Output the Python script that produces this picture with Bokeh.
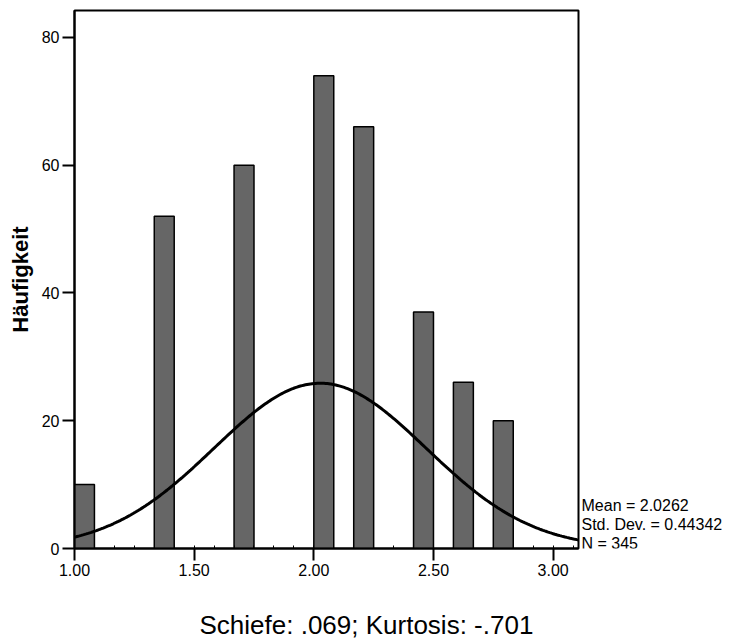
import numpy as np
from bokeh.plotting import figure
from bokeh.layouts import row, column
from bokeh.models import FixedTicker, PrintfTickFormatter, Range1d
from bokeh.core.properties import value
from bokeh.embed import file_html
from bokeh.resources import INLINE

# ---- data ----
bin_start = [1.0, 1.3333, 1.6667, 2.0, 2.1667, 2.4167, 2.5833, 2.75]
counts = [10, 52, 60, 74, 66, 37, 26, 20]
bin_width = 1.0 / 12
x_ticks = [1.0, 1.5, 2.0, 2.5, 3.0]
y_ticks = [0, 20, 40, 60, 80]
mean_val = 2.0262
sd_val = 0.44342
n_val = 345
stats_lines = ["Mean = 2.0262", "Std. Dev. = 0.44342", "N = 345"]
caption = ["Schiefe: .069; Kurtosis: -.701"]
y_title = "Häufigkeit"

X_MIN, X_MAX = 1.0, 3.106
Y_MIN, Y_MAX = 0.0, 84.2
FONT = "Liberation Sans"
W, H = 730, 639
MAIN_W, MAIN_H = 580, 584
BORDER_TOP, BORDER_BOTTOM = 10, 36
CAP_H = H - MAIN_H
SIDE_W = W - MAIN_W


def blank(fig):
    fig.outline_line_color = None
    fig.grid.visible = False
    fig.background_fill_color = "white"
    fig.border_fill_color = "white"
    return fig


p = figure(width=MAIN_W, height=MAIN_H, output_backend="svg", toolbar_location=None,
           x_range=Range1d(X_MIN, X_MAX), y_range=Range1d(Y_MIN, Y_MAX),
           min_border_left=74, min_border_right=2, min_border_top=BORDER_TOP,
           min_border_bottom=BORDER_BOTTOM)
p.background_fill_color = "white"
p.border_fill_color = "white"
p.outline_line_color = "black"
p.outline_line_width = 2
p.grid.visible = False

# bars
bin_end = [s + bin_width for s in bin_start]
p.quad(left=bin_start, right=bin_end, bottom=0, top=counts,
       fill_color="#666666", line_color="black", line_width=1.5)

# normal curve from the displayed mean / std. dev. / N
xs = np.linspace(X_MIN, X_MAX, 300)
ys = n_val * bin_width / (sd_val * np.sqrt(2 * np.pi)) * np.exp(-0.5 * ((xs - mean_val) / sd_val) ** 2)
p.line(xs, ys, line_color="black", line_width=3)

# axes
minor = [1.0 + k / 12 for k in range(0, 26)]
p.xaxis.ticker = FixedTicker(ticks=x_ticks, minor_ticks=minor)
p.xaxis.formatter = PrintfTickFormatter(format="%.2f")
p.yaxis.ticker = FixedTicker(ticks=y_ticks)
for ax in (p.xaxis[0], p.yaxis[0]):
    ax.axis_line_color = "black"
    ax.axis_line_width = 2
    ax.major_tick_line_color = "black"
    ax.major_tick_line_width = 2
    ax.major_tick_out = 12
    ax.major_tick_in = 0
    ax.major_label_text_font = FONT
    ax.major_label_text_font_size = "16px"
    ax.major_label_text_color = "black"
p.xaxis.minor_tick_line_color = "black"
p.xaxis.minor_tick_line_width = 1
p.xaxis.minor_tick_in = 3
p.xaxis.minor_tick_out = 0
p.yaxis.minor_tick_line_color = None
p.xaxis.major_label_standoff = 3
p.yaxis.major_label_standoff = 3
p.yaxis.axis_label = y_title
p.yaxis.axis_label_text_font = FONT
p.yaxis.axis_label_text_font_style = "bold"
p.yaxis.axis_label_text_font_size = "22px"
p.yaxis.axis_label_text_color = "black"
p.yaxis.axis_label_standoff = 6

# side strip with the statistics text; its frame is aligned with the main
# frame (page y from BORDER_TOP to MAIN_H - BORDER_BOTTOM), so the y range
# is expressed in page pixels measured from the top
s = blank(figure(width=SIDE_W, height=MAIN_H, output_backend="svg", toolbar_location=None,
                 x_range=Range1d(0, SIDE_W),
                 y_range=Range1d(MAIN_H - BORDER_BOTTOM, BORDER_TOP),
                 x_axis_type=None, y_axis_type=None,
                 min_border_left=0, min_border_right=0, min_border_top=0,
                 min_border_bottom=0))
s.text(x=[1, 1, 1], y=[505, 524, 543], text=stats_lines, text_font=value(FONT),
       text_font_size="16px", text_color="black",
       text_baseline="alphabetic", text_align="left")

# caption strip across the full width (coordinates in pixels, y from its top)
c = blank(figure(width=W, height=CAP_H, output_backend="svg", toolbar_location=None,
                 x_range=Range1d(0, W), y_range=Range1d(CAP_H, 0),
                 x_axis_type=None, y_axis_type=None,
                 min_border_left=0, min_border_right=0, min_border_top=0,
                 min_border_bottom=0))
c.text(x=[199], y=[40], text=caption, text_font=value(FONT),
       text_font_size="26px", text_color="black",
       text_baseline="alphabetic", text_align="left")

layout = column(row(p, s, spacing=0), c, spacing=0)
open("out.html", "w").write(file_html(layout, INLINE))
